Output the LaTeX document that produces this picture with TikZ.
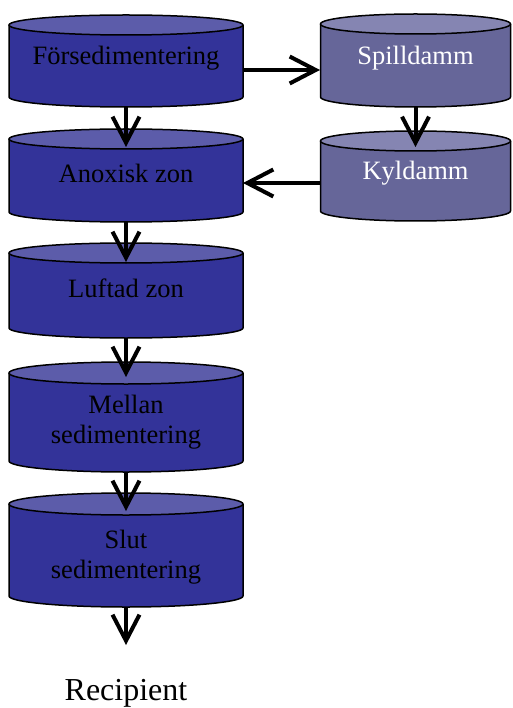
\documentclass[tikz,border=0pt]{standalone}
\usepackage{fontspec}
\setmainfont{Liberation Serif}
\usetikzlibrary{arrows.meta}
\definecolor{bodyL}{RGB}{51,51,153}
\definecolor{topL}{RGB}{92,92,170}
\definecolor{bodyR}{RGB}{102,102,153}
\definecolor{topR}{RGB}{133,133,178}
\tikzset{
  flow/.style={line width=4pt, -{Straight Barb[length=26pt,width=27pt,line width=4pt]}},
  lbl/.style={font=\fontsize{26.5}{30}\selectfont, align=center, inner sep=0pt},
  cylline/.style={line width=1.5pt, draw=black},
}
\newcommand\mycyl[7]{%
  \fill[#6] ({#1-#4},{#2}) -- ({#1-#4},{#3}) arc[start angle=180,end angle=360,x radius=#4pt,y radius=#5pt] -- ({#1+#4},{#2}) -- cycle;
  \draw[cylline] ({#1-#4},{#2}) -- ({#1-#4},{#3}) arc[start angle=180,end angle=360,x radius=#4pt,y radius=#5pt] -- ({#1+#4},{#2});
  \filldraw[cylline, fill=#7] ({#1},{#2}) ellipse[x radius=#4pt, y radius=#5pt];
}
\begin{document}
\begin{tikzpicture}[x=1pt,y=-1pt]
\useasboundingbox (0,0) rectangle (512,708);
% cylinders
\mycyl{126}{25}{97}{117}{10}{bodyL}{topL}
\mycyl{126}{139}{212}{117}{10}{bodyL}{topL}
\mycyl{126}{253}{328}{117}{10}{bodyL}{topL}
\mycyl{126}{373}{461}{117}{11}{bodyL}{topL}
\mycyl{126}{504}{596}{117}{11}{bodyL}{topL}
\mycyl{415.5}{24}{97}{95}{10}{bodyR}{topR}
\mycyl{415.5}{141}{211}{95}{10}{bodyR}{topR}
% labels
\node[lbl] (f) at (126,58) {Försedimentering};
\node[lbl] (a) at (126,173) {Anoxisk zon};
\node[lbl] (l) at (126,288) {Luftad zon};
\node[lbl] (m) at (126,422) {Mellan\\sedimentering};
\node[lbl] (s) at (126,557) {Slut\\sedimentering};
\node[lbl, text=white] (sp) at (415.5,58) {Spilldamm};
\node[lbl, text=white] (ky) at (415.5,173) {Kyldamm};
\node[inner sep=0pt, font=\fontsize{32}{36}\selectfont] (rec) at (126,693) {Recipient};
% connector ends
\coordinate (f-b) at (126,107);
\coordinate (a-t) at (126,147);
\coordinate (a-b) at (126,222);
\coordinate (l-t) at (126,262);
\coordinate (l-b) at (126,338);
\coordinate (m-t) at (126,377);
\coordinate (m-b) at (126,472);
\coordinate (s-t) at (126,511);
\coordinate (s-b) at (126,607);
\coordinate (out) at (126,645);
\coordinate (f-r) at (243,70);
\coordinate (sp-l) at (320,70);
\coordinate (ky-l) at (320,183);
\coordinate (a-r) at (243,183);
\coordinate (sp-b) at (415.5,107);
\coordinate (ky-t) at (415.5,147);
% connectors
\draw[flow] (f-b) -- (a-t);
\draw[flow] (a-b) -- (l-t);
\draw[flow] (l-b) -- (m-t);
\draw[flow] (m-b) -- (s-t);
\draw[flow] (s-b) -- (out);
\draw[flow] (f-r) -- (sp-l);
\draw[flow] (ky-l) -- (a-r);
\draw[flow] (sp-b) -- (ky-t);
\end{tikzpicture}
\end{document}
